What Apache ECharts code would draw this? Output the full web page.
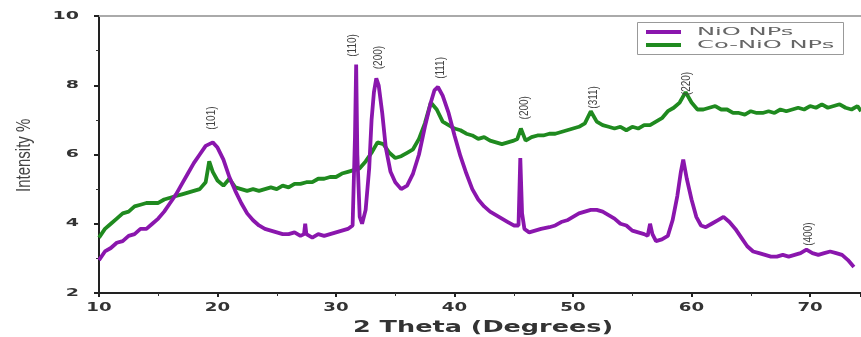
<!DOCTYPE html>
<html><head><meta charset="utf-8">
<script src="https://cdn.jsdelivr.net/npm/echarts@6/dist/echarts.min.js"></script>
<style>html,body{margin:0;padding:0;background:#fff}#c{width:861px;height:337px}</style>
</head><body><div id="c"></div>
<script>
const nioX = [10,10.5,11,11.5,12,12.5,13,13.5,14,14.5,15,15.5,16,16.5,17,17.5,18,18.5,19,19.3,19.6,20,20.5,21,21.5,22,22.5,23,23.5,24,24.5,25,25.5,26,26.5,27,27.3,27.4,27.5,28,28.5,29,29.5,30,30.5,31,31.4,31.6,31.7,31.8,32,32.2,32.5,32.8,33,33.2,33.4,33.6,33.9,34.2,34.6,35,35.5,36,36.5,37,37.5,38,38.3,38.6,39,39.5,40,40.5,41,41.5,42,42.5,43,43.5,44,44.5,45,45.4,45.55,45.7,45.9,46.3,46.8,47.3,48,48.5,49,49.5,50,50.5,51,51.5,52,52.5,53,53.5,54,54.5,55,55.5,56,56.3,56.5,56.7,57,57.5,58,58.4,58.8,59.1,59.3,59.6,60,60.4,60.8,61.2,61.7,62.2,62.7,63.2,63.7,64.2,64.7,65.2,65.7,66.2,66.7,67.2,67.7,68.2,68.7,69.2,69.7,70.2,70.7,71.2,71.7,72.2,72.7,73.2,73.7,74.3];
const nioY = [2.95,3.2,3.3,3.45,3.5,3.65,3.7,3.85,3.85,4.0,4.15,4.35,4.6,4.85,5.15,5.45,5.75,6.0,6.25,6.3,6.35,6.2,5.85,5.35,4.95,4.6,4.3,4.1,3.95,3.85,3.8,3.75,3.7,3.7,3.75,3.65,3.7,4.0,3.7,3.6,3.7,3.65,3.7,3.75,3.8,3.85,3.95,6.5,8.6,6.0,4.2,4.0,4.4,5.6,7.0,7.8,8.2,8.0,7.2,6.2,5.5,5.2,5.0,5.1,5.45,6.0,6.8,7.5,7.85,7.95,7.7,7.2,6.55,5.95,5.45,5.0,4.7,4.5,4.35,4.25,4.15,4.05,3.95,3.95,5.9,4.3,3.85,3.75,3.8,3.85,3.9,3.95,4.05,4.1,4.2,4.3,4.35,4.4,4.4,4.35,4.25,4.15,4.0,3.95,3.8,3.75,3.7,3.65,4.0,3.7,3.5,3.55,3.65,4.1,4.8,5.5,5.85,5.3,4.7,4.2,3.95,3.9,4.0,4.1,4.2,4.05,3.85,3.6,3.35,3.2,3.15,3.1,3.05,3.05,3.1,3.05,3.1,3.15,3.25,3.15,3.1,3.15,3.2,3.15,3.1,2.95,2.75];
const coX = [10,10.5,11,11.5,12,12.5,13,13.5,14,14.5,15,15.5,16,16.5,17,17.5,18,18.5,19,19.3,19.6,20,20.5,21,21.5,22,22.5,23,23.5,24,24.5,25,25.5,26,26.5,27,27.5,28,28.5,29,29.5,30,30.5,31,31.5,32,32.5,33,33.5,34,34.5,35,35.5,36,36.5,37,37.5,38,38.5,39,39.5,40,40.5,41,41.5,42,42.5,43,43.5,44,44.5,45,45.3,45.6,46,46.5,47,47.5,48,48.5,49,49.5,50,50.5,51,51.5,52,52.5,53,53.5,54,54.5,55,55.5,56,56.5,57,57.5,58,58.5,59,59.5,60,60.5,61,61.5,62,62.5,63,63.5,64,64.5,65,65.5,66,66.5,67,67.5,68,68.5,69,69.5,70,70.5,71,71.5,72,72.5,73,73.5,74,74.3];
const coY = [3.6,3.85,4.0,4.15,4.3,4.35,4.5,4.55,4.6,4.6,4.6,4.7,4.75,4.8,4.85,4.9,4.95,5.0,5.2,5.8,5.5,5.25,5.1,5.3,5.05,5.0,4.95,5.0,4.95,5.0,5.05,5.0,5.1,5.05,5.15,5.15,5.2,5.2,5.3,5.3,5.35,5.35,5.45,5.5,5.55,5.6,5.8,6.05,6.35,6.3,6.05,5.9,5.95,6.05,6.15,6.45,6.9,7.5,7.3,6.95,6.85,6.75,6.7,6.6,6.55,6.45,6.5,6.4,6.35,6.3,6.35,6.4,6.45,6.75,6.4,6.5,6.55,6.55,6.6,6.6,6.65,6.7,6.75,6.8,6.9,7.25,6.95,6.85,6.8,6.75,6.8,6.7,6.8,6.75,6.85,6.85,6.95,7.05,7.25,7.35,7.5,7.8,7.5,7.3,7.3,7.35,7.4,7.3,7.3,7.2,7.2,7.15,7.25,7.2,7.2,7.25,7.2,7.3,7.25,7.3,7.35,7.3,7.4,7.35,7.45,7.35,7.4,7.45,7.35,7.3,7.4,7.25,7.3];
const peakLabels = ['(101)','(110)','(200)','(111)','(200)','(311)','(220)','(400)'];
const peakX = [19.5,31.4,33.6,38.8,45.9,51.7,59.6,69.9];
const peakY = [7.05,9.15,8.8,8.5,7.35,7.65,8.05,3.7];
const xTicks = [10,20,30,40,50,60,70];
const yTicks = [2,4,6,8,10];
const seriesNames = ['NiO NPs','Co-NiO NPs'];
const seriesColors = ['#8a16ad','#1f8a1f'];
const xName = '2 Theta (Degrees)';
const yName = 'Intensity %';

function zip(a,b){return a.map((v,i)=>[v,b[i]]);}
const chart = echarts.init(document.getElementById('c'));
chart.setOption({
  animation:false,
  grid:{left:99,right:0,top:16,bottom:44},
  xAxis:[{
    type:'value', min:10, max:74.3, interval:10,
    axisLine:{show:true,lineStyle:{color:'#222',width:2}},
    axisTick:{show:true,length:4,lineStyle:{color:'#222',width:2}},
    minorTick:{show:true,splitNumber:2,length:3,lineStyle:{color:'#333'}},
    axisLabel:{show:false},
    splitLine:{show:false}
  },{
    type:'value', position:'top', min:10, max:74.3,
    axisLine:{show:true,lineStyle:{color:'#aaa',width:2}},
    axisTick:{show:false}, axisLabel:{show:false}, splitLine:{show:false}
  }],
  yAxis:{
    type:'value', min:2, max:10, interval:2,
    axisLine:{show:true,lineStyle:{color:'#222',width:2}},
    axisTick:{show:true,length:5,lineStyle:{color:'#222',width:2}},
    minorTick:{show:true,splitNumber:2,length:3,lineStyle:{color:'#333'}},
    axisLabel:{show:false},
    splitLine:{show:false}
  },
  series:[
    {name:seriesNames[0],type:'line',data:zip(nioX,nioY),showSymbol:false,
     lineStyle:{color:seriesColors[0],width:3.8},z:3},
    {name:seriesNames[1],type:'line',data:zip(coX,coY),showSymbol:false,
     lineStyle:{color:seriesColors[1],width:3.8},z:2}
  ]
});

const g = [];
xTicks.forEach(v=>{
  const p = chart.convertToPixel({xAxisIndex:0}, v);
  g.push({type:'text',x:p,y:308,scaleX:1.4,z:10,
    style:{text:String(v),font:'bold 13px "DejaVu Sans"',fill:'#333',align:'center',verticalAlign:'middle'}});
});
yTicks.forEach(v=>{
  const p = chart.convertToPixel({yAxisIndex:0}, v);
  g.push({type:'text',x:79,y:p,scaleX:1.9,z:10,
    style:{text:String(v),font:'bold 10px "DejaVu Sans"',fill:'#333',align:'right',verticalAlign:'middle'}});
});
g.push({type:'text',x:353,y:328,scaleX:1.7,z:10,
  style:{text:xName,font:'bold 15px "DejaVu Sans"',fill:'#333',align:'left',verticalAlign:'middle'}});
g.push({type:'text',x:25,y:192,rotation:Math.PI/2,scaleY:1.3,z:10,
  style:{text:yName,font:'15px "Liberation Sans"',fill:'#444',align:'left',verticalAlign:'middle'}});
peakLabels.forEach((t,i)=>{
  const p = chart.convertToPixel({xAxisIndex:0,yAxisIndex:0},[peakX[i],peakY[i]]);
  g.push({type:'text',x:p[0],y:p[1],rotation:Math.PI/2,scaleY:1.3,z:10,
    style:{text:t,font:'10px "Liberation Sans"',fill:'#444',align:'center',verticalAlign:'middle'}});
});
// legend
g.push({type:'rect',shape:{x:637.5,y:22.5,width:206,height:32},z:20,
  style:{fill:'#fff',stroke:'#999',lineWidth:1}});
seriesNames.forEach((n,i)=>{
  const yy = 32 + i*13;
  g.push({type:'line',shape:{x1:646,y1:yy,x2:681,y2:yy},z:21,style:{stroke:seriesColors[i],lineWidth:4}});
  g.push({type:'text',x:697,y:yy,scaleX:2.2,z:21,
    style:{text:n,font:'11px "DejaVu Sans"',fill:'#666',align:'left',verticalAlign:'middle'}});
});
chart.setOption({graphic:g});
</script></body></html>
